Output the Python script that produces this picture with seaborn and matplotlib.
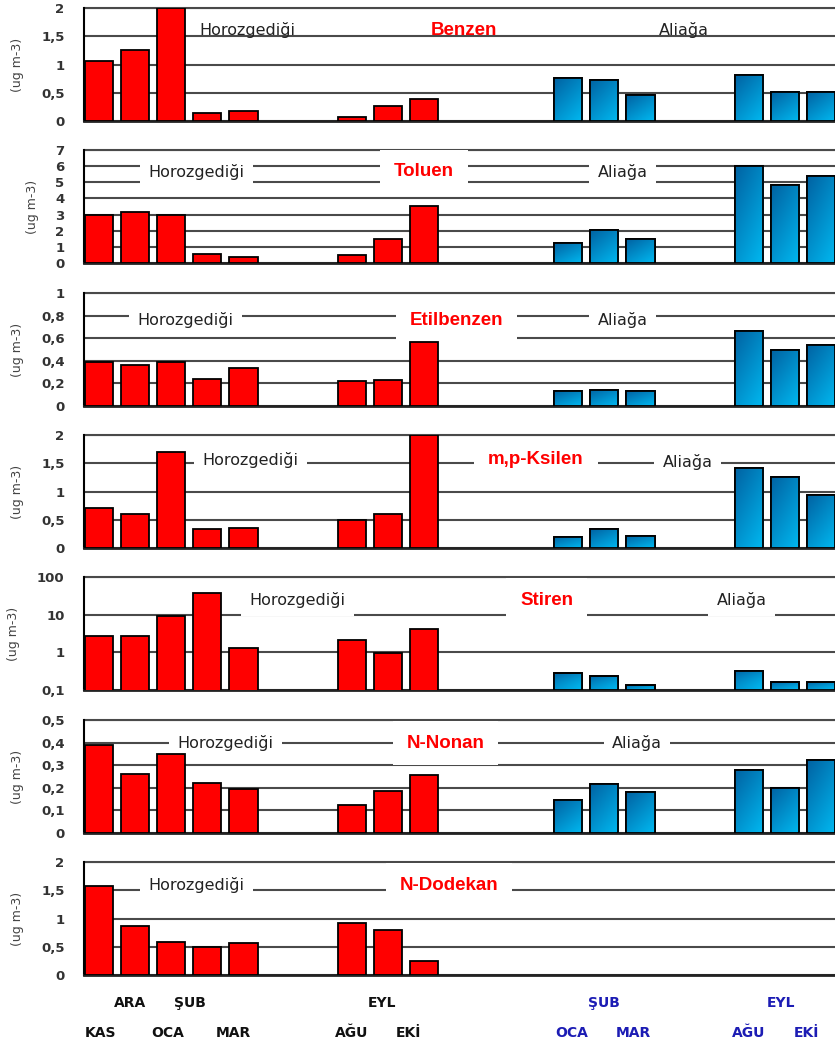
import numpy as np
import pandas as pd
import matplotlib
matplotlib.use("Agg")
import matplotlib.pyplot as plt
from matplotlib.ticker import FuncFormatter
import seaborn as sns

# bar slots: Horozgedigi (KAS..MAR, AGU..EKI), Aliaga (OCA..MAR, AGU..EKI)
horoz_slots = [0, 1, 2, 3, 4, 7, 8, 9]
aliaga_slots = [13, 14, 15, 18, 19, 20]

compounds = ["Benzen", "Toluen", "Etilbenzen", "m,p-Ksilen", "Stiren", "N-Nonan", "N-Dodekan"]

benzen_h = [1.06, 1.25, 2.0, 0.15, 0.17, 0.07, 0.26, 0.39]
benzen_a = [0.76, 0.73, 0.46, 0.81, 0.51, 0.51]
toluen_h = [2.97, 3.18, 2.97, 0.58, 0.40, 0.48, 1.46, 3.53]
toluen_a = [1.23, 2.02, 1.46, 6.03, 4.82, 5.36]
etilbenzen_h = [0.385, 0.36, 0.39, 0.24, 0.34, 0.22, 0.23, 0.565]
etilbenzen_a = [0.13, 0.145, 0.13, 0.665, 0.50, 0.54]
ksilen_h = [0.71, 0.60, 1.70, 0.33, 0.35, 0.49, 0.60, 2.0]
ksilen_a = [0.20, 0.33, 0.22, 1.42, 1.26, 0.93]
stiren_h = [2.7, 2.7, 9.4, 37.7, 1.28, 2.07, 0.94, 4.1]
stiren_a = [0.28, 0.235, 0.135, 0.32, 0.16, 0.16]
nonan_h = [0.39, 0.26, 0.35, 0.22, 0.196, 0.122, 0.184, 0.258]
nonan_a = [0.146, 0.217, 0.18, 0.28, 0.20, 0.323]
dodekan_h = [1.57, 0.86, 0.58, 0.49, 0.56, 0.92, 0.79, 0.25]
dodekan_a = []

values_h = [benzen_h, toluen_h, etilbenzen_h, ksilen_h, stiren_h, nonan_h, dodekan_h]
values_a = [benzen_a, toluen_a, etilbenzen_a, ksilen_a, stiren_a, nonan_a, dodekan_a]

yticks = [
    [0, 0.5, 1, 1.5, 2],
    [0, 1, 2, 3, 4, 5, 6, 7],
    [0, 0.2, 0.4, 0.6, 0.8, 1],
    [0, 0.5, 1, 1.5, 2],
    [0.1, 1, 10, 100],
    [0, 0.1, 0.2, 0.3, 0.4, 0.5],
    [0, 0.5, 1, 1.5, 2],
]
log_scale = [False, False, False, False, True, False, False]

# month labels under the last panel (upper row / lower row)
months_upper = ["ARA", "ŞUB", "EYL", "ŞUB", "EYL"]
months_lower = ["KAS", "OCA", "MAR", "AĞU", "EKİ", "OCA", "MAR", "AĞU", "EKİ"]
months_upper_site = ["H", "H", "H", "A", "A"]
months_lower_site = ["H", "H", "H", "H", "H", "A", "A", "A", "A"]

# ---- layout / style ----
upper_x = [0.86, 2.52, 7.84, 14.0, 18.9]
lower_x = [0.03, 1.91, 3.71, 7.0, 8.56, 13.1, 14.8, 18.0, 19.6]
title_x = [10.1, 9.0, 9.9, 12.1, 12.4, 9.6, 9.7]
horoz_pos = [(4.1, 1.61), (2.7, 5.64), (2.4, 0.76), (4.2, 1.56), (5.5, 24.5), (3.5, 0.398), (2.7, 1.59)]
aliaga_pos = [(16.2, 1.61), (14.5, 5.64), (14.5, 0.76), (16.3, 1.52), (17.8, 24.5), (14.9, 0.398), None]
panel_tops = [8, 150, 293, 435, 577, 720, 862]
panel_h = 113
W, H = 835, 1047

RED = "#ff0000"
BLUE = "#0096d6"
GRID = "#4a4a4a"

sns.set_style("white")
plt.rcParams["font.family"] = ["DejaVu Sans"]

fig = plt.figure(figsize=(W / 100, H / 100), dpi=100)

comma = FuncFormatter(lambda v, _: f"{v:g}".replace(".", ","))
grad = np.linspace(0, 1, 64).reshape(-1, 1) * np.ones((1, 16)) * 0.6 + \
    np.linspace(0, 1, 16).reshape(1, -1) * 0.4
cmap = matplotlib.colors.LinearSegmentedColormap.from_list("b", ["#0063a3", "#00b8f0"])

axes = []
for i, name in enumerate(compounds):
    top = panel_tops[i]
    ax = fig.add_axes([84 / W, 1 - (top + panel_h) / H, 1 - 84 / W, panel_h / H])
    axes.append(ax)
    df = pd.DataFrame({
        "slot": horoz_slots[:len(values_h[i])] + aliaga_slots[:len(values_a[i])],
        "val": values_h[i] + values_a[i],
        "site": ["Horozgediği"] * len(values_h[i]) + ["Aliağa"] * len(values_a[i]),
    })
    if log_scale[i]:
        ax.set_yscale("log")
    sns.barplot(data=df, x="slot", y="val", hue="site",
                palette={"Horozgediği": RED, "Aliağa": BLUE}, saturation=1,
                native_scale=True, dodge=False, width=0.78,
                edgecolor="black", linewidth=1.3, legend=False, ax=ax, zorder=3)
    ymin, ymax = yticks[i][0], yticks[i][-1]
    # gradient on the blue bars
    for p in list(ax.patches):
        fc = p.get_facecolor()
        if fc[2] > fc[0] and p.get_height() > 0:
            x0 = p.get_x()
            y0 = max(p.get_y(), ymin)
            y1 = p.get_y() + p.get_height()
            im = ax.imshow(grad, cmap=cmap, aspect="auto", origin="upper",
                           extent=[x0, x0 + p.get_width(), y0, y1], zorder=3.5,
                           interpolation="bilinear")
            im.set_clip_path(p)
            edge = plt.Rectangle((x0, y0), p.get_width(), y1 - y0, fill=False,
                                 edgecolor="black", linewidth=1.3, zorder=4)
            ax.add_patch(edge)
    ax.set_xlim(-0.42, 20.39)
    ax.set_ylim(ymin, ymax)
    ax.set_yticks(yticks[i])
    ax.yaxis.set_major_formatter(comma)
    ax.minorticks_off()
    ax.set_xticks([])
    ax.set_xlabel("")
    ax.set_ylabel("(ug m-3)", fontsize=9, color="#444", labelpad=12)
    ax.tick_params(axis="y", length=0, pad=14, labelsize=9.5, labelcolor="#333")
    for lab in ax.get_yticklabels():
        lab.set_fontweight("bold")
    ax.yaxis.grid(True, color=GRID, linewidth=1.5, zorder=0)
    ax.set_axisbelow(True)
    for s in ["top", "right"]:
        ax.spines[s].set_visible(False)
    ax.spines["left"].set_color("black")
    ax.spines["left"].set_linewidth(1.5)
    ax.spines["bottom"].set_color("#222")
    ax.spines["bottom"].set_linewidth(2)
    ax.axhline(ymax, color=GRID, linewidth=1.5, zorder=0, clip_on=False)

    box = None if i == 0 else dict(facecolor="white", edgecolor="none", pad=6)
    ax.text(title_x[i], horoz_pos[i][1], name, color=RED, fontsize=13.5,
            fontweight="bold", family="Liberation Sans", ha="center", va="center",
            zorder=2, bbox=None if i == 0 else dict(facecolor="white", edgecolor="none", pad=10))
    ax.text(horoz_pos[i][0], horoz_pos[i][1], "Horozgediği", fontsize=11.5,
            color="#222", ha="center", va="center", zorder=2, bbox=box)
    if aliaga_pos[i] is not None:
        ax.text(aliaga_pos[i][0], aliaga_pos[i][1], "Aliağa", fontsize=11.5,
                color="#222", ha="center", va="center", zorder=2, bbox=box)

# month labels below the last panel
ax = axes[-1]
trans = matplotlib.transforms.blended_transform_factory(ax.transData, ax.transAxes)
site_color = {"H": "#111111", "A": "#1c1cb4"}
for lab, x, s in zip(months_upper, upper_x, months_upper_site):
    ax.text(x, -0.25, lab, transform=trans, ha="center", va="center",
            fontsize=10, fontweight="bold", color=site_color[s])
for lab, x, s in zip(months_lower, lower_x, months_lower_site):
    ax.text(x, -0.51, lab, transform=trans, ha="center", va="center",
            fontsize=10, fontweight="bold", color=site_color[s])

fig.savefig("out.png", dpi=100)
